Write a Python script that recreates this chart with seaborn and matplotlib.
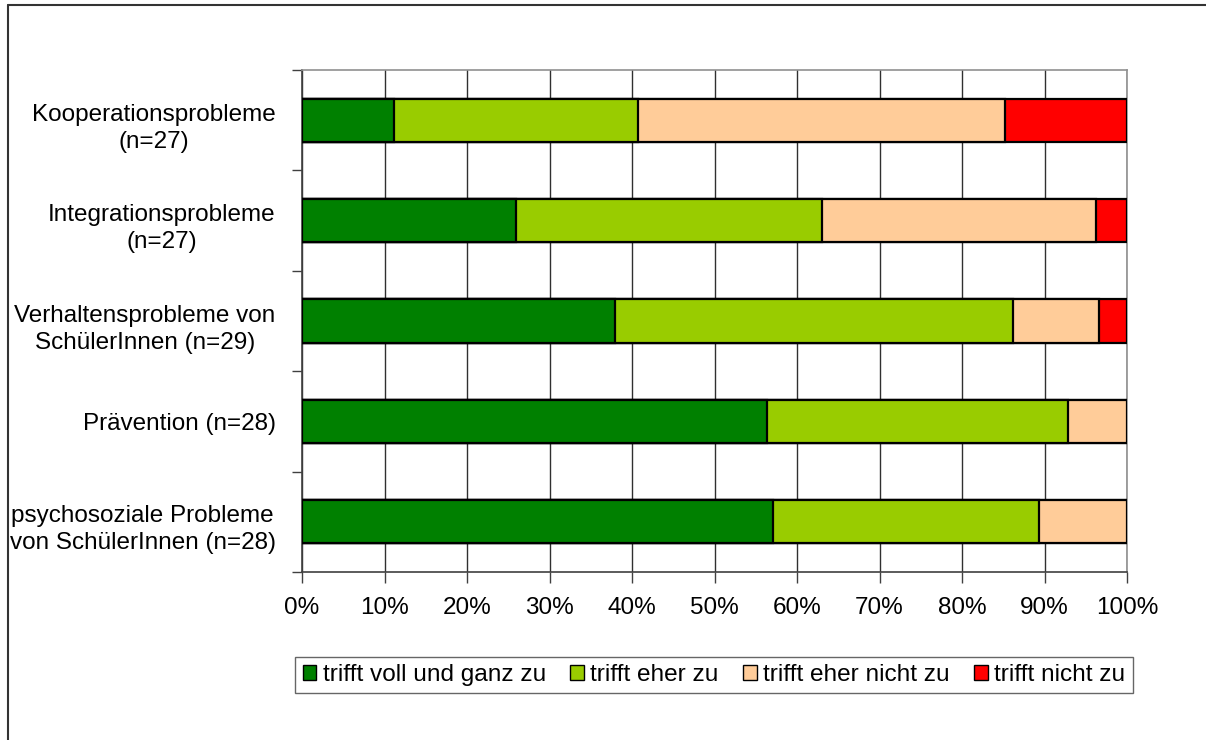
import pandas as pd
import numpy as np
import matplotlib
matplotlib.use("Agg")
import matplotlib.pyplot as plt
from matplotlib.patches import Patch
from matplotlib.lines import Line2D
import seaborn as sns

kategorien = [
    "Kooperationsprobleme\n(n=27)",
    "Integrationsprobleme\n(n=27)",
    "Verhaltensprobleme von\nSchülerInnen (n=29)",
    "Prävention (n=28)",
    "psychosoziale Probleme\nvon SchülerInnen (n=28)",
]
antworten = ["trifft voll und ganz zu", "trifft eher zu", "trifft eher nicht zu", "trifft nicht zu"]
farben = ["#008000", "#99CC00", "#FFCC99", "#FF0000"]

voll_zu = [11.1, 25.9, 37.9, 56.4, 57.1]
eher_zu = [29.6, 37.1, 48.3, 36.4, 32.2]
eher_nicht_zu = [44.5, 33.3, 10.4, 7.2, 10.7]
nicht_zu = [14.8, 3.7, 3.4, 0.0, 0.0]

df = pd.DataFrame({
    "kategorie": kategorien,
    antworten[0]: voll_zu,
    antworten[1]: eher_zu,
    antworten[2]: eher_nicht_zu,
    antworten[3]: nicht_zu,
})
kum = df[antworten].cumsum(axis=1)

sns.set_theme(style="white")
plt.rcParams['font.family'] = ['Liberation Sans', 'DejaVu Sans']
plt.rcParams['text.color'] = 'black'
plt.rcParams['xtick.color'] = 'black'
plt.rcParams['ytick.color'] = 'black'

fig = plt.figure(figsize=(12.06, 7.4), dpi=100)
ax = fig.add_axes([302 / 1206, 1 - 572 / 740, (1127 - 302) / 1206, (572 - 70) / 740])

# gestapelte Balken: von hinten (Summe) nach vorne zeichnen
for i in range(len(antworten) - 1, -1, -1):
    sns.barplot(x=kum[antworten[i]], y=df["kategorie"], color=farben[i],
                orient="h", width=0.43, edgecolor="black", linewidth=1.6,
                saturation=1, ax=ax, zorder=3)

ax.set_xlim(0, 100)
ax.set_ylim(4.5, -0.5)
ax.set_xticks(np.arange(0, 101, 10))
ax.set_xticklabels([f"{v}%" for v in range(0, 101, 10)])
ax.set_yticks(np.arange(-0.5, 5, 1), minor=False)
ax.set_yticklabels([])
ax.set_yticks([0.03, 1.03, 2.03, 3.0, 4.03], minor=True)
ax.set_yticklabels(kategorien, minor=True, multialignment="center", linespacing=1.3)
ax.tick_params(axis="y", which="minor", length=0, pad=19, labelsize=17.5)
ax.tick_params(axis="y", which="major", direction="out", length=7, width=1, color="#404040", left=True)
ax.tick_params(axis="x", direction="out", length=8, width=1, color="#404040", bottom=True,
               pad=10, labelsize=17.5)
ax.set_xlabel("")
ax.set_ylabel("")
ax.xaxis.grid(True, color="#303030", linewidth=1)
ax.set_axisbelow(True)
for s in ["left", "bottom"]:
    ax.spines[s].set_color("#404040")
    ax.spines[s].set_linewidth(1.2)
for s in ["top", "right"]:
    ax.spines[s].set_color("#909090")
    ax.spines[s].set_linewidth(1.2)

handles = [Patch(facecolor=c, edgecolor="black", linewidth=1) for c in farben]
leg = fig.legend(handles, antworten, loc="center", bbox_to_anchor=(0.592, 0.088), ncol=4,
                 fontsize=17.6, frameon=True, fancybox=False, handlelength=0.57, handleheight=0.57,
                 handletextpad=0.25, columnspacing=1.0, borderpad=0.3, borderaxespad=0)
leg.get_frame().set_edgecolor("#404040")
leg.get_frame().set_linewidth(1)

# Rahmen des Diagrammbereichs
fig.add_artist(Line2D([8 / 1206, 8 / 1206], [0, 1 - 5 / 740], color="#333333", linewidth=1.5))
fig.add_artist(Line2D([8 / 1206, 1], [1 - 5 / 740, 1 - 5 / 740], color="#333333", linewidth=1.5))

fig.savefig("out.png", dpi=100, facecolor="white")
